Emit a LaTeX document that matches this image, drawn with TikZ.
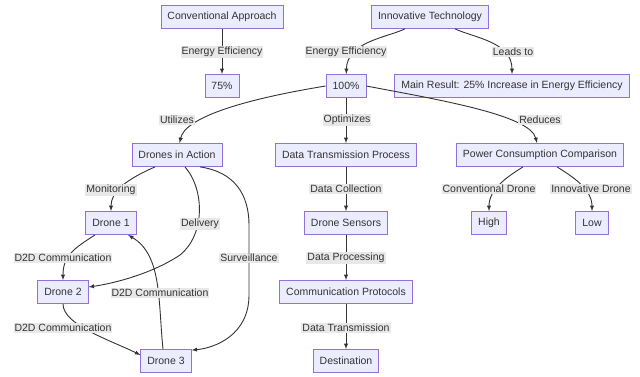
\documentclass[tikz,border=0pt]{standalone}
\usepackage{fontspec}
\setmainfont{Liberation Sans}
\usepackage{xcolor}
\usepackage{tikz}
\usetikzlibrary{arrows}

\definecolor{boxfill}{HTML}{ECECFF}
\definecolor{boxline}{HTML}{9370DB}
\definecolor{inkgray}{HTML}{333333}
\definecolor{lblfill}{HTML}{E8E8E8}

\begin{document}
\begin{tikzpicture}[x=1pt, y=-1pt,
        box/.style={draw=boxline, fill=boxfill, text=inkgray, line width=0.8pt,
            minimum height=23pt, inner xsep=6.5pt, font=\fontsize{10.5}{12}\selectfont},
        lbl/.style={fill=lblfill, text=inkgray, inner sep=1pt, font=\fontsize{10.5}{12}\selectfont},
        link/.style={draw=inkgray, line width=0.9pt, -latex}]
        \useasboundingbox (0, 0) rectangle (640, 376);

        \node[box] (conv) at (222, 17) {Conventional Approach};
        \node[box] (innov) at (430, 17) {Innovative Technology};
        \node[box] (p75) at (222, 86) {75\%};
        \node[box] (p100) at (346, 86) {100\%};
        \node[box] (main) at (512, 86) {Main Result: 25\% Increase in Energy Efficiency};
        \node[box] (drones) at (177, 155) {Drones in Action};
        \node[box] (dtp) at (346, 155) {Data Transmission Process};
        \node[box] (power) at (540, 155) {Power Consumption Comparison};
        \node[box] (d1) at (111, 223) {Drone 1};
        \node[box] (sensors) at (346, 223) {Drone Sensors};
        \node[box] (high) at (489, 223) {High};
        \node[box] (low) at (592, 223) {Low};
        \node[box] (d2) at (63, 292) {Drone 2};
        \node[box] (proto) at (346, 292) {Communication Protocols};
        \node[box] (d3) at (166, 361) {Drone 3};
        \node[box] (dest) at (346, 361) {Destination};

        \draw[link] (conv) -- (p75);
        \draw[link] ([xshift=-25pt]innov.south) .. controls (385, 38) and (347, 42) .. (p100);
        \draw[link] ([xshift=25pt]innov.south) .. controls (475, 38) and (512, 42) .. (main);
        \draw[link] (p100.west) .. controls (240, 100) and (185, 118) .. (drones);
        \draw[link] (p100) -- (dtp);
        \draw[link] (p100.east) .. controls (440, 100) and (530, 115) .. (power);
        \draw[link] ([xshift=-22pt]drones.south) .. controls (125, 180) and (111, 192) .. (d1);
        \draw[link] ([xshift=8pt]drones.south) .. controls (205, 190) and (205, 235) .. (180, 255)
            .. controls (150, 275) and (110, 284) .. ([yshift=5pt]d2.east);
        \draw[link] ([xshift=23pt]drones.south) .. controls (235, 172) and (249, 195) .. (249, 225)
            -- (249, 295) .. controls (249, 335) and (215, 348) .. ([yshift=-1pt]d3.north east);
        \draw[link] ([xshift=-16pt]d1.south) .. controls (75, 248) and (63, 255) .. (d2);
        \draw[link] ([xshift=-3pt]d3.north) .. controls (158, 300) and (162, 255) .. ([xshift=17pt]d1.south);
        \draw[link] (d2.south) .. controls (63, 325) and (110, 340) .. ([yshift=6pt]d3.west);
        \draw[link] (dtp) -- (sensors);
        \draw[link] (sensors) -- (proto);
        \draw[link] (proto) -- (dest);
        \draw[link] ([xshift=-17pt]power.south) .. controls (505, 178) and (489, 190) .. (high);
        \draw[link] ([xshift=17pt]power.south) .. controls (575, 178) and (592, 190) .. (low);

        \node[lbl] (lconv) at (222, 52) {Energy Efficiency};
        \node[lbl] (linnov) at (346, 52) {Energy Efficiency};
        \node[lbl] (lleads) at (513, 52) {Leads to};
        \node[lbl] (lutil) at (177, 120) {Utilizes};
        \node[lbl] (lopt) at (347, 120) {Optimizes};
        \node[lbl] (lred) at (540, 120) {Reduces};
        \node[lbl] (lmon) at (111, 190) {Monitoring};
        \node[lbl] (ldel) at (200, 224) {Delivery};
        \node[lbl] (lsurv) at (249, 258) {Surveillance};
        \node[lbl] (ldda) at (63, 258) {D2D Communication};
        \node[lbl] (lddb) at (160, 293) {D2D Communication};
        \node[lbl] (lddc) at (63, 328) {D2D Communication};
        \node[lbl] (lcol) at (346, 189) {Data Collection};
        \node[lbl] (lproc) at (346, 258) {Data Processing};
        \node[lbl] (ltrans) at (346, 328) {Data Transmission};
        \node[lbl] (lconvd) at (489, 189) {Conventional Drone};
        \node[lbl] (linnovd) at (591, 189) {Innovative Drone};
\end{tikzpicture}
\end{document}
